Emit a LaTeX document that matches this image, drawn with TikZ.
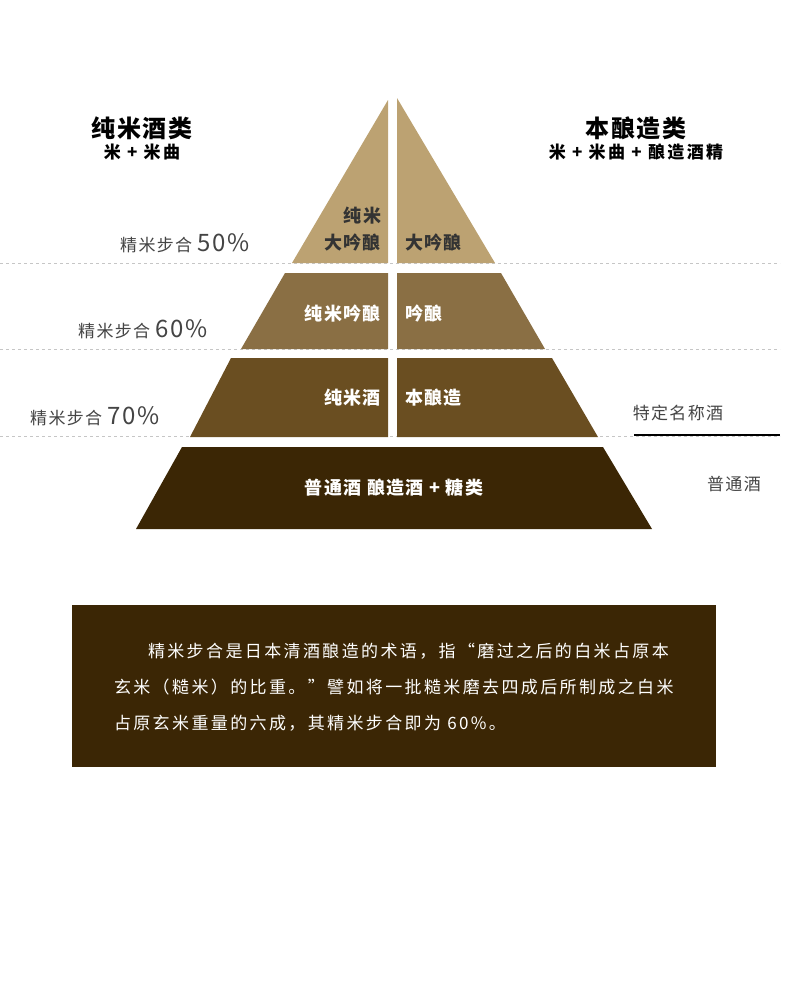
\documentclass[tikz,border=0pt]{standalone}
\usepackage{fontspec}
\setmainfont{Noto Sans CJK SC}
\newfontfamily\spacedcjk{Noto Sans CJK SC}[LetterSpace=14]
\newfontfamily\midcjk{Noto Sans CJK SC}[LetterSpace=8]
\usetikzlibrary{positioning}
\definecolor{tiertan}{HTML}{BCA272}
\definecolor{tierlight}{HTML}{8A6F44}
\definecolor{tiermid}{HTML}{6A4E21}
\definecolor{tierdark}{HTML}{3B2605}
\definecolor{labelgray}{HTML}{444444}

\begin{document}
\begin{tikzpicture}[
  x=1pt, y=-1pt,
  every node/.style={inner sep=0pt, outer sep=0pt},
  head/.style={font=\midcjk\fontsize{24}{26}\selectfont\bfseries},
  sub/.style={font=\spacedcjk\fontsize{17}{19}\selectfont\bfseries},
  ratio/.style={text=labelgray, anchor=east, font=\midcjk\fontsize{17}{20}\selectfont},
  inleft/.style={anchor=east, align=right, font=\midcjk\fontsize{18}{27}\selectfont\bfseries},
  inright/.style={anchor=west, font=\midcjk\fontsize{18}{20}\selectfont\bfseries},
  side/.style={text=labelgray, font=\midcjk\fontsize{17}{20}\selectfont},
  guide/.style={gray!45, dashed, line width=0.6pt}
]
\useasboundingbox (0,0) rectangle (790,991);

% guide lines
\draw[guide] (0,263) -- (780,263);
\draw[guide] (0,349) -- (780,349);
\draw[guide] (0,436) -- (780,436);

% pyramid
\fill[tiertan] (388,100) -- (292,263) -- (388,263) -- cycle;
\fill[tiertan] (397,98) -- (397,263) -- (495,263) -- cycle;
\fill[tierlight] (285,273) -- (241,349) -- (388,349) -- (388,273) -- cycle;
\fill[tierlight] (397,273) -- (397,349) -- (545,349) -- (501,273) -- cycle;
\fill[tiermid] (231,358) -- (190,437) -- (388,437) -- (388,358) -- cycle;
\fill[tiermid] (397,358) -- (397,437) -- (598,437) -- (552,358) -- cycle;
\fill[tierdark] (182,447) -- (136,529) -- (652,529) -- (603,447) -- cycle;

\node[inleft, text=black!80] (daiginjoL) at (381,229) {纯米\\大吟酿};
\node[inright, text=black!80] (daiginjoR) at (405,243) {大吟酿};
\node[inleft, text=white] (ginjoL) at (381,314) {纯米吟酿};
\node[inright, text=white] (ginjoR) at (405,314) {吟酿};
\node[inleft, text=white] (junmai) at (381,398) {纯米酒};
\node[inright, text=white] (honjozo) at (405,398) {本酿造};
\node[sub, font=\midcjk\fontsize{18}{20}\selectfont\bfseries, text=white] (futsu) at (394,488) {普通酒 酿造酒 + 糖类};

% headers
\node[head] (junmaihead) at (142,128) {纯米酒类};
\node[sub, below=4pt of junmaihead] (junmaisub) {米 + 米曲};
\node[head] (honjozohead) at (636,128) {本酿造类};
\node[sub, below=4pt of honjozohead] (honjozosub) {米 + 米曲 + 酿造酒精};

% polishing ratios
\node[ratio] (ratio50) at (250,243) {精米步合 {\fontsize{24}{26}\selectfont 50\%}};
\node[ratio] (ratio60) at (208,329) {精米步合 {\fontsize{24}{26}\selectfont 60\%}};
\node[ratio] (ratio70) at (160,416) {精米步合 {\fontsize{24}{26}\selectfont 70\%}};

% right side
\node[side] (tokutei) at (678,413) {特定名称酒};
\coordinate (rulestart) at (634,435);
\coordinate (ruleend) at (780,435);
\draw[black, line width=2.5pt] (rulestart) -- (ruleend);
\node[side] (futsuside) at (734,484) {普通酒};

% note
\fill[tierdark] (72,605) rectangle (716,767);
\node[anchor=north west, text=white, align=left,
  font=\spacedcjk\fontsize{17}{36}\selectfont] (note) at (114,643)
  {\hspace{34pt}精米步合是日本清酒酿造的术语，指“磨过之后的白米占原本\\
   玄米（糙米）的比重。”譬如将一批糙米磨去四成后所制成之白米\\
   占原玄米重量的六成，其精米步合即为 60\%。};
\end{tikzpicture}
\end{document}
